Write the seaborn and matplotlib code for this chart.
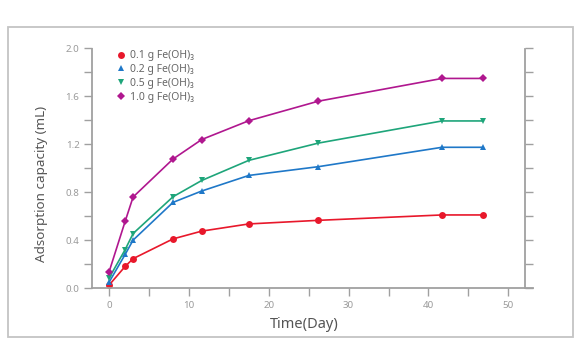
import numpy as np
import pandas as pd
import seaborn as sns
import matplotlib
matplotlib.use("Agg")
import matplotlib.pyplot as plt
from matplotlib.lines import Line2D
from matplotlib.patches import Rectangle
from matplotlib.ticker import MultipleLocator, FormatStrFormatter

days = [0, 2, 3, 8, 11.6, 17.5, 26.2, 41.7, 46.8]
s01 = [0.025, 0.18, 0.245, 0.41, 0.475, 0.535, 0.565, 0.61, 0.61]
s02 = [0.05, 0.28, 0.40, 0.715, 0.81, 0.94, 1.013, 1.175, 1.175]
s05 = [0.085, 0.32, 0.455, 0.762, 0.898, 1.066, 1.21, 1.395, 1.395]
s10 = [0.137, 0.556, 0.76, 1.077, 1.24, 1.397, 1.56, 1.75, 1.75]
labels = ["0.1 g Fe(OH)\u2083", "0.2 g Fe(OH)\u2083", "0.5 g Fe(OH)\u2083", "1.0 g Fe(OH)\u2083"]
colors = ["#e8182b", "#1f78c8", "#1ea57a", "#b0178f"]
markers = ["o", "^", "v", "D"]
msizes = [5, 4.6, 4.6, 4.3]

rows = []
for lab, vals in zip(labels, [s01, s02, s05, s10]):
    for d, v in zip(days, vals):
        rows.append({"Day": d, "val": v, "series": lab})
df = pd.DataFrame(rows)

sns.set_style("white")
plt.rcParams['font.family'] = ['Noto Sans', 'DejaVu Sans']

fig = plt.figure(figsize=(5.8, 3.6), dpi=100)
ax = fig.add_axes([92/580, 1-288/360, (533-92)/580, (288-48.5)/360])

for lab, c, m, ms in zip(labels, colors, markers, msizes):
    sub = df[df["series"] == lab]
    sns.lineplot(data=sub, x="Day", y="val", color=c, marker=m, ax=ax,
                 linewidth=1.2, markersize=ms, markeredgewidth=0, legend=False)

ax.set_xlim(-2.15, 53.1)
ax.set_ylim(0, 2.0)
ax.xaxis.set_major_locator(MultipleLocator(10))
ax.xaxis.set_minor_locator(MultipleLocator(5))
ax.yaxis.set_major_locator(MultipleLocator(0.4))
ax.yaxis.set_minor_locator(MultipleLocator(0.2))
ax.yaxis.set_major_formatter(FormatStrFormatter('%.1f'))

spine_c = "#a0a0a0"
for s in ["left", "bottom", "right"]:
    ax.spines[s].set_visible(True)
    ax.spines[s].set_color(spine_c)
    ax.spines[s].set_linewidth(1.3)
ax.spines["top"].set_visible(False)
ax.spines["right"].set_position(("axes", (525-92)/(533-92)))
ax.spines["right"].set_bounds(0, 2.0)

ax.tick_params(axis="both", which="both", direction="out", length=6, width=1,
               color=spine_c, labelsize=7, labelcolor="#9a9a9a", pad=3)
ax.tick_params(axis="y", which="both", left=True, right=True, labelright=False)
ax.tick_params(axis="x", which="both", bottom=True, top=False)

ax.set_xlabel("Time(Day)", fontsize=10.5, color="#555555", labelpad=5.5)
ax.xaxis.label.set_x(0.481)
ax.set_ylabel("Adsorption capacity (mL)", fontsize=9.7, color="#555555", labelpad=13)
ax.yaxis.label.set_y(0.436)

handles = [Line2D([], [], linestyle="none", marker=m, color=c, markersize=ms, markeredgewidth=0)
           for m, c, ms in zip(markers, colors, msizes)]
leg = ax.legend(handles, labels, loc="upper left", bbox_to_anchor=(0.040, 1.019),
                frameon=False, fontsize=7.5, labelspacing=0.27, handletextpad=0.4,
                handlelength=1.0, borderaxespad=0.2)
for t in leg.get_texts():
    t.set_color("#666666")

frame = Rectangle((7.5/580, 1-337/360), (573-7.5)/580, (337-27)/360,
                  transform=fig.transFigure, fill=False, edgecolor="#c4c4c4", linewidth=1.3)
fig.patches.append(frame)

fig.savefig("out.png", dpi=100)
